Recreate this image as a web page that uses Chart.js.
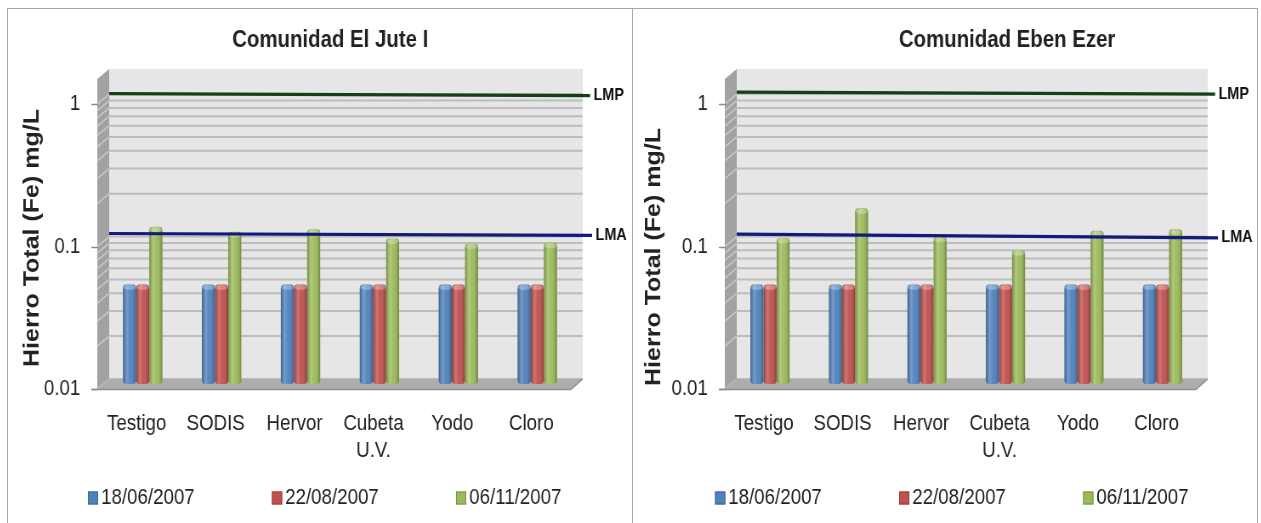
<!DOCTYPE html>
<html>
<head>
<meta charset="utf-8">
<script src="https://cdn.jsdelivr.net/npm/chart.js@4.4.1/dist/chart.umd.min.js"></script>
<style>
  html, body { margin: 0; padding: 0; background: #ffffff; }
  #frame { position: absolute; left: 7px; top: 8px; width: 1249px; height: 530px; border: 1px solid #a6a6a6; }
  #divider { position: absolute; left: 632px; top: 8px; width: 1px; height: 520px; background: #a6a6a6; }
  canvas { position: absolute; top: 9px; }
</style>
</head>
<body>
<div id="frame"></div>
<div id="divider"></div>
<!-- each canvas is drawn 734 px wide and shown 624 px wide, so the drawing is narrowed horizontally -->
<canvas id="jute" width="734" height="514" style="left:8px;width:624px;height:514px"></canvas>
<canvas id="eben" width="734" height="514" style="left:633px;width:624px;height:514px"></canvas>
<script>
// Treatments and sampling dates
const categories = ['Testigo', 'SODIS', 'Hervor', ['Cubeta', 'U.V.'], 'Yodo', 'Cloro'];
const sampleDates = ['18/06/2007', '22/08/2007', '06/11/2007'];

// Hierro total (mg/L), Comunidad El Jute I
const juteJun = [0.05, 0.05, 0.05, 0.05, 0.05, 0.05];
const juteAug = [0.05, 0.05, 0.05, 0.05, 0.05, 0.05];
const juteNov = [0.127, 0.117, 0.122, 0.105, 0.097, 0.098];

// Hierro total (mg/L), Comunidad Eben Ezer
const ebenJun = [0.05, 0.05, 0.05, 0.05, 0.05, 0.05];
const ebenAug = [0.05, 0.05, 0.05, 0.05, 0.05, 0.05];
const ebenNov = [0.106, 0.171, 0.108, 0.087, 0.119, 0.122];

// Limit lines (value at left end, value at right end)
const juteLMP = [1.008, 0.976];
const juteLMA = [0.105, 0.102];
const ebenLMP = [1.033, 1.0];
const ebenLMA = [0.104, 0.098];

// Labelled ticks of the logarithmic axis
const yTickValues = [0.01, 0.1, 1];
const yMin = 0.01, yMax = 1.5;

const seriesColors = ['#4f81bd', '#c0504d', '#9bbb59'];
const seriesEdges = ['#3b6597', '#973b39', '#779143'];
const FONT = "'Liberation Sans', Arial, sans-serif";
const TEXT = '#222222';

Chart.defaults.font.family = FONT;

// Draws the 3-D walls, floor, gridlines, cylinder shading, limit lines, titles and legend.
const panel3d = {
  id: 'panel3d',
  beforeDraw(chart, args, o) {
    const ctx = chart.ctx;
    ctx.save();
    ctx.fillStyle = TEXT;
    ctx.font = 'bold 24px ' + FONT;
    ctx.textAlign = 'center';
    ctx.textBaseline = 'alphabetic';
    ctx.fillText(o.title, o.titleX, o.titleY);

    ctx.save();
    ctx.translate(o.yTitleX, o.yTitleY);
    ctx.rotate(-Math.PI / 2);
    ctx.font = 'bold 25px ' + FONT;
    ctx.textBaseline = 'middle';
    ctx.fillText(o.yTitle, 0, 0);
    ctx.restore();

    // legend
    ctx.font = '22px ' + FONT;
    ctx.textAlign = 'left';
    ctx.textBaseline = 'middle';
    chart.data.datasets.forEach((ds, i) => {
      const x = o.legendX + i * o.legendStep;
      ctx.fillStyle = ds.backgroundColor;
      ctx.fillRect(x, o.legendY - 6.5, 12, 13);
      ctx.strokeStyle = seriesEdges[i];
      ctx.lineWidth = 1;
      ctx.strokeRect(x + 0.5, o.legendY - 6, 11, 12);
      ctx.fillStyle = TEXT;
      ctx.fillText(ds.label, x + 15.5, o.legendY);
    });
    ctx.restore();
  },
  beforeDatasetsDraw(chart, args, o) {
    const ctx = chart.ctx;
    const a = chart.chartArea;
    const y = chart.scales.y;
    const dx = o.depthX, dy = o.depthY;
    const w = a.right - a.left;

    ctx.save();
    // back wall
    ctx.fillStyle = '#e6e6e6';
    ctx.fillRect(a.left + dx, a.top + dy, w, a.bottom - a.top);
    // side wall
    ctx.beginPath();
    ctx.moveTo(a.left, a.top);
    ctx.lineTo(a.left + dx, a.top + dy);
    ctx.lineTo(a.left + dx, a.bottom + dy);
    ctx.lineTo(a.left, a.bottom);
    ctx.closePath();
    ctx.fillStyle = '#a2a2a2';
    ctx.fill();

    // gridlines at every 1..9 step of each decade
    for (let dec = yMin; dec < yMax; dec *= 10) {
      for (let m = 1; m <= 9; m++) {
        const v = m * dec;
        if (v > yMax + 1e-9) break;
        const py = y.getPixelForValue(v);
        ctx.strokeStyle = '#bcbcbc';
        ctx.lineWidth = 2;
        ctx.beginPath();
        ctx.moveTo(a.left + dx, py + dy);
        ctx.lineTo(a.right + dx, py + dy);
        ctx.stroke();
        ctx.strokeStyle = '#c9c9c9';
        ctx.lineWidth = 1.5;
        ctx.beginPath();
        ctx.moveTo(a.left, py);
        ctx.lineTo(a.left + dx, py + dy);
        ctx.stroke();
      }
    }

    // floor
    ctx.beginPath();
    ctx.moveTo(a.left, a.bottom);
    ctx.lineTo(a.left + dx, a.bottom + dy);
    ctx.lineTo(a.right + dx, a.bottom + dy);
    ctx.lineTo(a.right, a.bottom);
    ctx.closePath();
    ctx.fillStyle = '#adadad';
    ctx.fill();
    ctx.strokeStyle = '#8e8e8e';
    ctx.lineWidth = 1.5;
    ctx.beginPath();
    ctx.moveTo(a.left - 7, a.bottom + 0.5);
    ctx.lineTo(a.right, a.bottom + 0.5);
    ctx.lineTo(a.right + dx, a.bottom + dy);
    ctx.stroke();

    // axis tick marks at labelled values
    ctx.strokeStyle = '#8a8a8a';
    ctx.lineWidth = 1.5;
    yTickValues.forEach(v => {
      const py = Math.round(y.getPixelForValue(v)) + 0.5;
      ctx.beginPath();
      ctx.moveTo(a.left - 7, py);
      ctx.lineTo(a.left + 1, py);
      ctx.stroke();
    });
    ctx.restore();

    // columns stand half-way into the depth of the floor
    ctx.save();
    ctx.translate(dx / 2, dy / 2);
  },
  afterDatasetsDraw(chart, args, o) {
    const ctx = chart.ctx;
    chart.data.datasets.forEach((ds, i) => {
      chart.getDatasetMeta(i).data.forEach(bar => {
        const p = bar.getProps(['x', 'y', 'base', 'width'], true);
        const left = p.x - p.width / 2;
        const h = p.base - p.y;
        ctx.save();
        ctx.beginPath();
        if (ctx.roundRect) ctx.roundRect(left, p.y, p.width, h, [4, 4, 4, 4]);
        else ctx.rect(left, p.y, p.width, h);
        ctx.clip();
        const g = ctx.createLinearGradient(left, 0, left + p.width, 0);
        g.addColorStop(0, 'rgba(0,0,0,0.25)');
        g.addColorStop(0.3, 'rgba(255,255,255,0.22)');
        g.addColorStop(0.55, 'rgba(255,255,255,0.04)');
        g.addColorStop(1, 'rgba(0,0,0,0.30)');
        ctx.fillStyle = g;
        ctx.fillRect(left, p.y, p.width, h);
        ctx.beginPath();
        ctx.ellipse(p.x, p.y + 3, p.width / 2 - 0.5, 2.6, 0, 0, Math.PI * 2);
        ctx.fillStyle = 'rgba(255,255,255,0.28)';
        ctx.fill();
        ctx.restore();
      });
    });
    ctx.restore();

    // limit lines on the back wall
    const a = chart.chartArea;
    const y = chart.scales.y;
    const dx = o.depthX, dy = o.depthY;
    const x0 = a.left + dx;
    const wallRight = a.right + dx;
    const limits = [
      { vals: o.lmp, color: '#153f15', end: wallRight + o.lmpEnd, text: 'LMP' },
      { vals: o.lma, color: '#101b7c', end: wallRight + o.lmaEnd, text: 'LMA' }
    ];
    ctx.save();
    limits.forEach(l => {
      const y0 = y.getPixelForValue(l.vals[0]) + dy;
      const y1 = y.getPixelForValue(l.vals[1]) + dy;
      ctx.strokeStyle = l.color;
      ctx.lineWidth = 3.2;
      ctx.beginPath();
      ctx.moveTo(x0, y0);
      ctx.lineTo(l.end, y1);
      ctx.stroke();
      ctx.fillStyle = '#111111';
      ctx.font = 'bold 17px ' + FONT;
      ctx.textAlign = 'left';
      ctx.textBaseline = 'middle';
      ctx.fillText(l.text, l.end + 4, y1);
    });
    ctx.restore();
  }
};

function makeChart(id, nov, jun, aug, panel) {
  const datasets = [jun, aug, nov].map((vals, i) => ({
    label: sampleDates[i],
    data: vals,
    backgroundColor: seriesColors[i],
    borderWidth: 0,
    borderSkipped: false,
    borderRadius: 4,
    categoryPercentage: 0.5,
    barPercentage: 1.0
  }));
  return new Chart(document.getElementById(id), {
    type: 'bar',
    data: { labels: categories, datasets },
    options: {
      responsive: false,
      animation: false,
      devicePixelRatio: 1,
      layout: { padding: { top: 70, right: 72, left: 0, bottom: 0 } },
      plugins: {
        legend: { display: false },
        title: { display: false },
        tooltip: { enabled: false },
        panel3d: panel
      },
      scales: {
        x: {
          grid: { display: false, drawTicks: false },
          border: { display: false },
          ticks: { color: TEXT, font: { size: 22 }, padding: 22, maxRotation: 0, autoSkip: false },
          afterFit: s => { s.height = 134; }
        },
        y: {
          type: 'logarithmic',
          min: yMin,
          max: yMax,
          grid: { display: false, drawTicks: false },
          border: { display: false },
          ticks: { color: TEXT, font: { size: 22 }, padding: 20, autoSkip: false,
                   callback: v => String(v) },
          afterBuildTicks: s => { s.ticks = yTickValues.map(v => ({ value: v })); },
          afterFit: s => { s.width = panel.axisWidth; }
        }
      }
    },
    plugins: [panel3d]
  });
}

makeChart('jute', juteNov, juteJun, juteAug, {
  title: 'Comunidad El Jute I', titleX: 379, titleY: 38,
  yTitle: 'Hierro Total (Fe) mg/L', yTitleX: 29, yTitleY: 229,
  legendX: 94, legendY: 489, legendStep: 216.5,
  axisWidth: 105, depthX: 14, depthY: -10,
  lmp: juteLMP, lma: juteLMA, lmpEnd: 8.7, lmaEnd: 11
});

makeChart('eben', ebenNov, ebenJun, ebenAug, {
  title: 'Comunidad Eben Ezer', titleX: 440, titleY: 38,
  yTitle: 'Hierro Total (Fe) mg/L', yTitleX: 25, yTitleY: 248,
  legendX: 96.5, legendY: 489, legendStep: 216.5,
  axisWidth: 108, depthX: 14, depthY: -10,
  lmp: ebenLMP, lma: ebenLMA, lmpEnd: 8.7, lmaEnd: 12
});
</script>
</body>
</html>
